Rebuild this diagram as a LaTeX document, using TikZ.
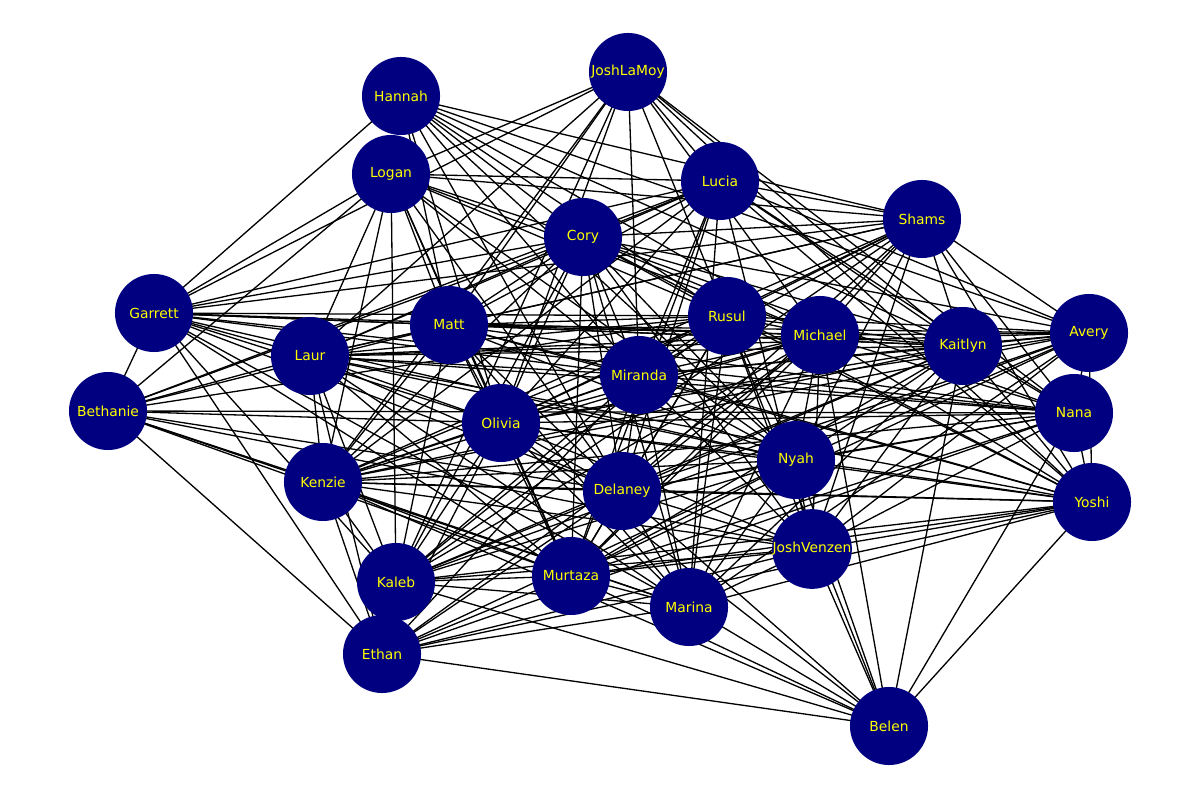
\documentclass[tikz,border=0pt]{standalone}
\usepackage{fontspec}
\setmainfont{DejaVu Sans}
\pgfdeclarelayer{bg}
\pgfsetlayers{bg,main}
\definecolor{navyblue}{RGB}{0,0,128}
\definecolor{nameyellow}{RGB}{255,255,0}
\begin{document}
\begin{tikzpicture}[x=0.01in,y=-0.01in,
    person/.style={circle,fill=navyblue,minimum size=0.78in,inner sep=0pt,text=nameyellow,font=\fontsize{10pt}{12pt}\selectfont},
    tie/.style={black,line width=0.95pt}]
    \useasboundingbox (0,0) rectangle (1199,799);
    \node[person] (jlamoy) at (628,72) {JoshLaMoy};
    \node[person] (hannah) at (401,96) {Hannah};
    \node[person] (logan) at (391,174) {Logan};
    \node[person] (lucia) at (720,181) {Lucia};
    \node[person] (shams) at (922,219) {Shams};
    \node[person] (cory) at (583,237) {Cory};
    \node[person] (garrett) at (154,313) {Garrett};
    \node[person] (matt) at (449,325) {Matt};
    \node[person] (rusul) at (727,316) {Rusul};
    \node[person] (michael) at (820,335) {Michael};
    \node[person] (avery) at (1089,333) {Avery};
    \node[person] (kaitlyn) at (963,346) {Kaitlyn};
    \node[person] (laur) at (310,356) {Laur};
    \node[person] (miranda) at (639,375) {Miranda};
    \node[person] (bethanie) at (108,411) {Bethanie};
    \node[person] (nana) at (1074,413) {Nana};
    \node[person] (olivia) at (501,423) {Olivia};
    \node[person] (nyah) at (796,460) {Nyah};
    \node[person] (kenzie) at (323,482) {Kenzie};
    \node[person] (delaney) at (622,491) {Delaney};
    \node[person] (yoshi) at (1092,502) {Yoshi};
    \node[person] (jvenzen) at (812,549) {JoshVenzen};
    \node[person] (kaleb) at (396,582) {Kaleb};
    \node[person] (murtaza) at (571,576) {Murtaza};
    \node[person] (marina) at (689,607) {Marina};
    \node[person] (ethan) at (382,654) {Ethan};
    \node[person] (belen) at (889,726) {Belen};
    \begin{pgfonlayer}{bg}
    \foreach \a/\b in {jlamoy/garrett,jlamoy/logan,jlamoy/laur,jlamoy/matt,jlamoy/olivia,jlamoy/kaleb,jlamoy/kenzie,jlamoy/miranda,jlamoy/rusul,jlamoy/michael,jlamoy/kaitlyn,jlamoy/nana,jlamoy/yoshi,jlamoy/lucia,
        hannah/garrett,hannah/shams,hannah/avery,hannah/cory,hannah/matt,hannah/olivia,hannah/delaney,hannah/miranda,hannah/rusul,hannah/michael,hannah/nyah,hannah/kaitlyn,
        logan/garrett,logan/bethanie,logan/laur,logan/lucia,logan/shams,logan/rusul,logan/michael,logan/matt,logan/olivia,logan/miranda,logan/kaleb,logan/delaney,logan/murtaza,logan/nyah,logan/kenzie,logan/cory,
        lucia/garrett,lucia/cory,lucia/matt,lucia/laur,lucia/kaitlyn,lucia/avery,lucia/nana,lucia/yoshi,lucia/miranda,lucia/olivia,lucia/delaney,lucia/murtaza,lucia/marina,lucia/jvenzen,lucia/kenzie,lucia/bethanie,lucia/shams,
        shams/cory,shams/matt,shams/garrett,shams/miranda,shams/olivia,shams/rusul,shams/michael,shams/kaitlyn,shams/avery,shams/nana,shams/yoshi,shams/delaney,shams/nyah,shams/kenzie,shams/kaleb,shams/jvenzen,shams/laur,shams/murtaza,
        cory/garrett,cory/laur,cory/olivia,cory/miranda,cory/delaney,cory/murtaza,cory/marina,cory/nyah,cory/jvenzen,cory/kaitlyn,cory/avery,cory/nana,cory/kenzie,cory/kaleb,cory/yoshi,cory/bethanie,cory/matt,cory/rusul,cory/michael,
        garrett/matt,garrett/rusul,garrett/michael,garrett/kaitlyn,garrett/miranda,garrett/olivia,garrett/nyah,garrett/delaney,garrett/murtaza,garrett/kaleb,garrett/ethan,garrett/bethanie,garrett/marina,garrett/nana,garrett/laur,
        bethanie/matt,bethanie/laur,bethanie/rusul,bethanie/olivia,bethanie/nana,bethanie/kenzie,bethanie/delaney,bethanie/murtaza,bethanie/marina,bethanie/jvenzen,bethanie/ethan,
        matt/rusul,matt/michael,matt/kaitlyn,matt/avery,matt/laur,matt/miranda,matt/olivia,matt/kenzie,matt/kaleb,matt/delaney,matt/murtaza,matt/marina,matt/nyah,matt/yoshi,matt/nana,
        laur/rusul,laur/michael,laur/kaitlyn,laur/avery,laur/miranda,laur/olivia,laur/kenzie,laur/kaleb,laur/delaney,laur/murtaza,laur/marina,laur/nyah,laur/ethan,laur/nana,laur/yoshi,
        rusul/michael,rusul/kaitlyn,rusul/avery,rusul/miranda,rusul/olivia,rusul/nyah,rusul/delaney,rusul/murtaza,rusul/marina,rusul/jvenzen,rusul/kaleb,rusul/kenzie,rusul/belen,rusul/yoshi,
        michael/kaitlyn,michael/avery,michael/nana,michael/yoshi,michael/miranda,michael/olivia,michael/nyah,michael/delaney,michael/murtaza,michael/marina,michael/jvenzen,michael/kaleb,michael/kenzie,michael/ethan,michael/belen,
        kaitlyn/avery,kaitlyn/nana,kaitlyn/yoshi,kaitlyn/miranda,kaitlyn/olivia,kaitlyn/nyah,kaitlyn/delaney,kaitlyn/murtaza,kaitlyn/marina,kaitlyn/jvenzen,kaitlyn/kenzie,kaitlyn/kaleb,kaitlyn/belen,
        avery/nana,avery/miranda,avery/olivia,avery/nyah,avery/delaney,avery/murtaza,avery/marina,avery/jvenzen,avery/kenzie,avery/kaleb,avery/yoshi,
        nana/yoshi,nana/miranda,nana/olivia,nana/nyah,nana/delaney,nana/kenzie,nana/murtaza,nana/jvenzen,nana/belen,nana/ethan,
        yoshi/nyah,yoshi/delaney,yoshi/olivia,yoshi/kenzie,yoshi/murtaza,yoshi/jvenzen,yoshi/kaleb,yoshi/belen,yoshi/marina,yoshi/ethan,yoshi/miranda,
        miranda/olivia,miranda/nyah,miranda/delaney,miranda/kenzie,miranda/kaleb,miranda/murtaza,miranda/marina,miranda/jvenzen,miranda/ethan,
        olivia/nyah,olivia/delaney,olivia/kenzie,olivia/kaleb,olivia/murtaza,olivia/marina,olivia/jvenzen,olivia/ethan,olivia/belen,
        nyah/delaney,nyah/kenzie,nyah/kaleb,nyah/murtaza,nyah/marina,nyah/jvenzen,nyah/ethan,nyah/belen,
        kenzie/delaney,kenzie/kaleb,kenzie/murtaza,kenzie/marina,kenzie/jvenzen,kenzie/ethan,kenzie/belen,
        delaney/jvenzen,delaney/kaleb,delaney/murtaza,delaney/marina,delaney/ethan,delaney/belen,
        jvenzen/kaleb,jvenzen/murtaza,jvenzen/marina,jvenzen/ethan,jvenzen/belen,
        kaleb/murtaza,kaleb/marina,kaleb/ethan,kaleb/belen,
        murtaza/marina,murtaza/ethan,murtaza/belen,
        marina/ethan,marina/belen,
        ethan/belen}
        \draw[tie] (\a.center) -- (\b.center);
    \end{pgfonlayer}
\end{tikzpicture}
\end{document}
